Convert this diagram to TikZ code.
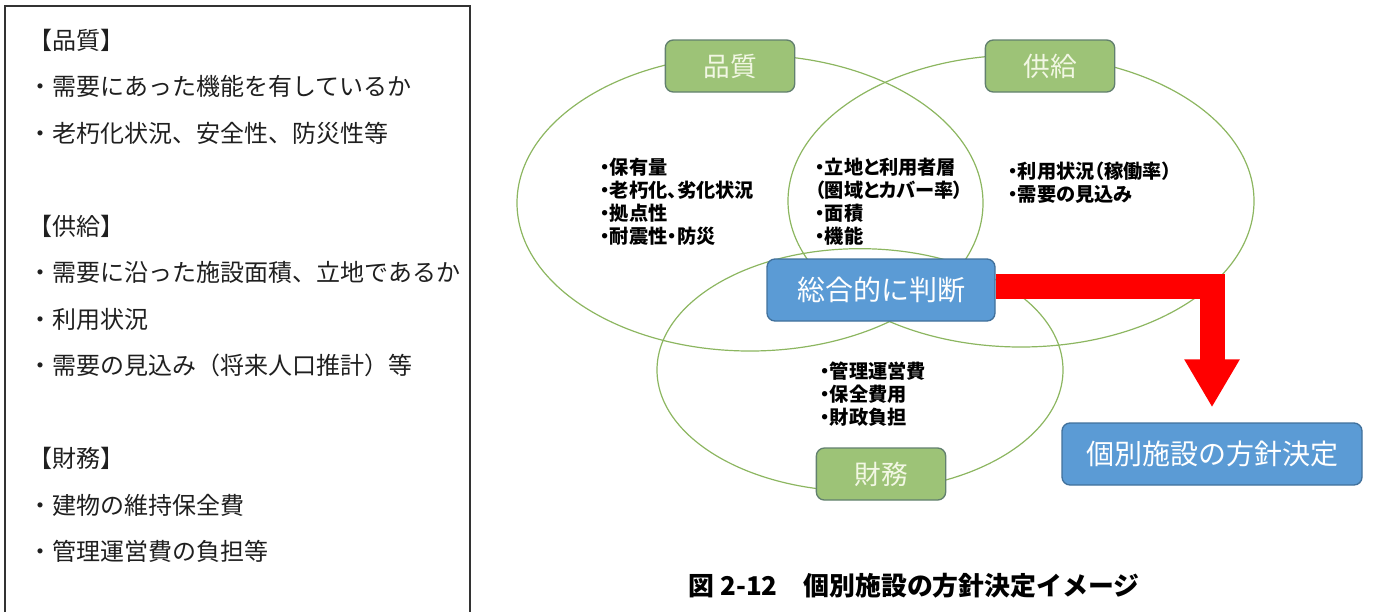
\documentclass[tikz,border=0pt]{standalone}
\usepackage{fontspec}
\setmainfont{Noto Sans CJK JP}
\newfontfamily\jpprop[RawFeature=+palt]{Noto Sans CJK JP}
\usetikzlibrary{arrows.meta,shapes.geometric}
\definecolor{ringgreen}{RGB}{140,182,96}
\definecolor{tagfill}{RGB}{157,195,119}
\definecolor{tagline}{RGB}{98,128,110}
\definecolor{tagtext}{RGB}{242,247,228}
\definecolor{boxfill}{RGB}{91,155,213}
\definecolor{boxline}{RGB}{65,113,156}

\begin{document}
\begin{tikzpicture}[
  x=0.75pt,y=-0.75pt,
  ring/.style={
    ellipse,draw=ringgreen,line width=.9pt,inner sep=0pt
  },
  tag/.style={
    rectangle,rounded corners=6pt,draw=tagline,line width=1pt,
    fill=tagfill,text=tagtext,font=\fontsize{20}{24}\selectfont,
    minimum width=97pt,minimum height=39pt,inner sep=0pt
  },
  bluebox/.style={
    rectangle,rounded corners=6pt,draw=boxline,line width=1pt,
    fill=boxfill,text=white,font=\fontsize{21}{25}\selectfont,
    minimum height=46.5pt,inner sep=0pt
  },
  note/.style={
    anchor=west,inner sep=0pt,align=left,
    font=\jpprop\bfseries\fontsize{14.4}{17.3}\selectfont
  },
  listline/.style={
    anchor=west,inner sep=0pt,text=black!88,
    font=\fontsize{18}{22}\selectfont
  },
  redarrow/.style={
    draw=red,line width=18.75pt,line join=miter,
    -{Triangle[length=36pt,width=39pt]},shorten >=11.25pt
  }
]
  \useasboundingbox (0,0) rectangle (1373,612);

  % left list, open at the bottom
  \draw[black!80,line width=1pt] (5,612) |- (470,6) -- (470,612);
  \foreach \i/\t in {0/{【品質】},1/{・需要にあった機能を有しているか},
      2/{・老朽化状況、安全性、防災性等},4/{【供給】},
      5/{・需要に沿った施設面積、立地であるか},6/{・利用状況},
      7/{・需要の見込み（将来人口推計）等},9/{【財務】},
      10/{・建物の維持保全費},11/{・管理運営費の負担等}}
    {\node[listline] (l\i) at (28,40+46.5*\i) {\t};}

  % the three circles
  \node[ring,minimum width=349.5pt,minimum height=222pt] (quality) at (750,203) {};
  \node[ring,minimum width=349.5pt,minimum height=219pt] (supply) at (1021,201) {};
  \node[ring,minimum width=304.5pt,minimum height=182pt] (finance) at (860,370) {};

  \node[note] (qualitytext) at (600,202)
    {・保有量\\・老朽化、劣化状況\\・拠点性\\・耐震性・防災};
  \node[note] (overlaptext) at (815,202)
    {・立地と利用者層\\（圏域とカバー率）\\・面積\\・機能};
  \node[note] (supplytext) at (1008,183)
    {・利用状況（稼働率）\\・需要の見込み};
  \node[note] (financetext) at (820,394)
    {・管理運営費\\・保全費用\\・財政負担};

  \node[tag] (qualitytag) at (730,66) {品質};
  \node[tag] (supplytag) at (1050,66) {供給};
  \node[tag] (financetag) at (881,474) {財務};

  \node[bluebox,minimum width=171pt] (judge) at (881,290) {総合的に判断};
  \node[bluebox,minimum width=225pt] (decide) at (1212,454) {個別施設の方針決定};

  \draw[redarrow] ([yshift=2.5pt]judge.east) -| (decide.north);

  \node[font=\bfseries\fontsize{19.4}{23}\selectfont] (caption) at (914,586)
    {図 2-12　個別施設の方針決定イメージ};
\end{tikzpicture}
\end{document}
